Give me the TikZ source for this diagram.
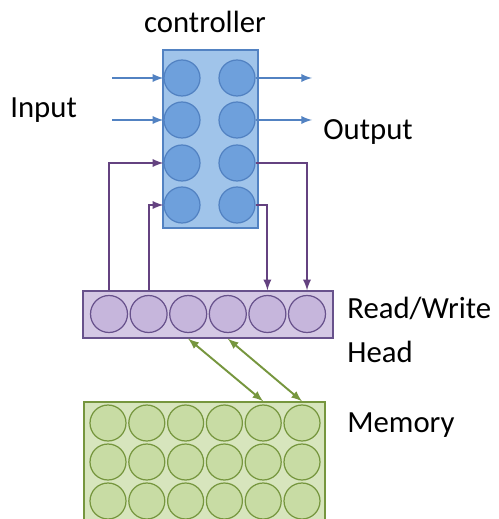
\documentclass[tikz,border=0pt]{standalone}
\usepackage{fontspec}
\setmainfont{Carlito}
\usetikzlibrary{arrows,calc}

\definecolor{ctrlfill}{RGB}{160,196,234}
\definecolor{ctrlcircle}{RGB}{110,160,220}
\definecolor{ctrlline}{RGB}{82,130,194}
\definecolor{headfill}{RGB}{212,200,228}
\definecolor{headcircle}{RGB}{198,182,220}
\definecolor{headline}{RGB}{104,82,140}
\definecolor{linkline}{RGB}{100,66,128}
\definecolor{memfill}{RGB}{215,229,189}
\definecolor{memcircle}{RGB}{200,220,164}
\definecolor{memline}{RGB}{118,150,62}

\tikzset{
	cell/.style={circle,minimum size=0.72cm,inner sep=0pt,line width=0.7pt},
	ctrlcell/.style={cell,draw=ctrlline,fill=ctrlcircle},
	headcell/.style={cell,minimum size=0.74cm,draw=headline,fill=headcircle},
	memcell/.style={cell,draw=memline,fill=memcircle},
	box/.style={rectangle,inner sep=0pt,line width=0.8pt},
	lbl/.style={font=\fontsize{17.5}{21}\selectfont,inner sep=0pt},
	bluearrow/.style={-latex,line width=1.1pt,draw=ctrlline},
	purplearrow/.style={-latex,line width=1.1pt,draw=linkline},
	greenarrow/.style={latex-latex,line width=1.1pt,draw=memline}
}

\begin{document}
\begin{tikzpicture}[x=0.02cm,y=-0.02cm]
	\def\hx{39.6}
	\def\mx{38.8}
\useasboundingbox (0,0) rectangle (498,519);
\clip (0,0) rectangle (498,519); % coupe la memoire en bas

%Boites
\node[box,draw=ctrlline,fill=ctrlfill,minimum width=1.9cm,minimum height=3.56cm] (ctrl) at (210.5,139) {};
\node[box,draw=headline,fill=headfill,minimum width=5cm,minimum height=0.94cm] (head) at (208,314.5) {};
\node[box,draw=memline,fill=memfill,minimum width=4.82cm,minimum height=2.4cm] (mem) at (204.5,462) {};

%Cellules du controleur
\foreach \j/\y in {1/78,2/120,3/163,4/205} {
	\node[ctrlcell] (c-\j-1) at (182,\y) {};
	\node[ctrlcell] (c-\j-2) at (237,\y) {};
}

%Cellules de la tete
\foreach \i in {1,...,6}
	\node[headcell] (h-\i) at ({109+\hx*(\i-1)},314) {};

%Cellules de la memoire
\foreach \i in {1,...,6}
	\foreach \j/\y in {1/423,2/462,3/501}
		\node[memcell] (m-\j-\i) at ({108+\mx*(\i-1)},\y) {};

%Entrees et sorties
\coordinate (in1) at (112,78);
\coordinate (in2) at (112,120);
\coordinate (out1) at (312,78);
\coordinate (out2) at (312,120);
\draw[bluearrow] (in1) -- (c-1-1.west);
\draw[bluearrow] (in2) -- (c-2-1.west);
\draw[bluearrow] (c-1-2.east) -- (out1);
\draw[bluearrow] (c-2-2.east) -- (out2);

%Liens tete / controleur
\draw[purplearrow] (h-1 |- head.north) |- (c-3-1.west);
\draw[purplearrow] (h-2 |- head.north) |- (c-4-1.west);
\draw[purplearrow] (c-3-2.east) -| (h-6 |- head.north);
\draw[purplearrow] (c-4-2.east) -| (h-5 |- head.north);

%Liens tete / memoire
\draw[greenarrow] (h-3 |- head.south) -- (m-1-5 |- mem.north);
\draw[greenarrow] (h-4 |- head.south) -- (m-1-6 |- mem.north);

%Textes
\node[lbl,anchor=base] (ctrltext) at (205,33) {controller};
\node[lbl,anchor=base west] (intext) at (10,118) {Input};
\node[lbl,anchor=base west] (outtext) at (323,140) {Output};
\node[lbl,anchor=base west] (rwtext) at (347,318) {Read/Write};
\node[lbl,anchor=base west] (headtext) at (347,362) {Head};
\node[lbl,anchor=base west] (memtext) at (347,432) {Memory};

\end{tikzpicture}
\end{document}
